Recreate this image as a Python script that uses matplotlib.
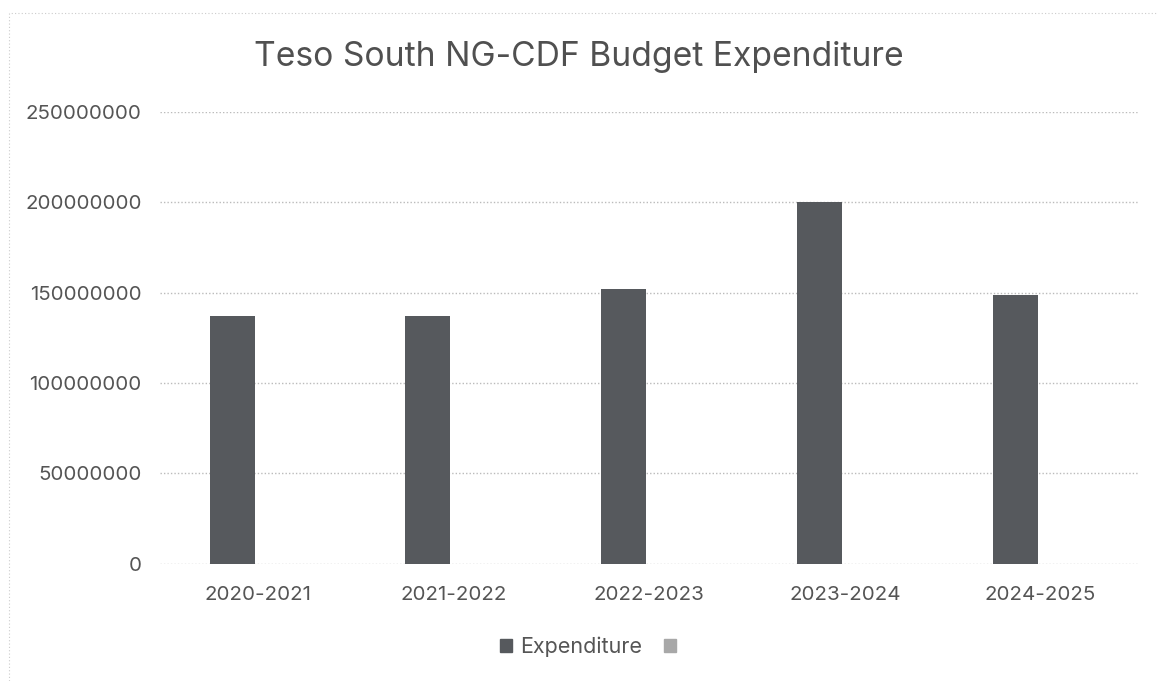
import matplotlib
matplotlib.use("Agg")
import matplotlib.pyplot as plt
from matplotlib.patches import Rectangle

categories = ["2020-2021", "2021-2022", "2022-2023", "2023-2024", "2024-2025"]
expenditure = [137000000, 137000000, 152000000, 200000000, 149000000]
yticks = [0, 50000000, 100000000, 150000000, 200000000, 250000000]

plt.rcParams['font.family'] = ['Inter', 'DejaVu Sans']
fig = plt.figure(figsize=(11.58, 6.81), dpi=100)
ax = fig.add_axes([0.138, 0.172, 0.845, 0.6635])

x = list(range(len(categories)))
ax.bar([i - 0.13 for i in x], expenditure, width=0.23, color="#56595d", zorder=3,
       label="Expenditure")
ax.set_xlim(-0.5, len(categories) - 0.5)
ax.set_ylim(0, 250000000)
ax.set_yticks(yticks)
ax.set_yticklabels([str(v) for v in yticks])
ax.set_xticks(x)
ax.set_xticklabels(categories)
ax.tick_params(axis='both', length=0, labelsize=14.8, colors="#555555")
ax.tick_params(axis='x', pad=16)
ax.tick_params(axis='y', pad=13)
ax.grid(axis='y', linestyle=(0, (1, 1.5)), color="#bbbbbb", linewidth=1, zorder=0)
for s in ax.spines.values():
    s.set_visible(False)

fig.text(0.5, 0.917, "Teso South NG-CDF Budget Expenditure", ha="center", va="center",
         fontsize=24.2, color="#505050")

h1 = Rectangle((0, 0), 1, 1, color="#56595d")
h2 = Rectangle((0, 0), 1, 1, color="#a8a8a8")
fig.legend([h1, h2], ["Expenditure", ""], loc="center", bbox_to_anchor=(0.511, 0.05),
           ncol=2, frameon=False, fontsize=15.5, handlelength=0.6, handleheight=0.6,
           handletextpad=0.35, columnspacing=1.0, labelcolor="#555555")

border = Rectangle((0.008, -0.01), 1.1, 0.991, transform=fig.transFigure, fill=False,
                   linestyle=(0, (1, 2)), edgecolor="#cccccc", linewidth=0.8)
fig.patches.append(border)

fig.savefig("out.png", dpi=100, facecolor="white")
